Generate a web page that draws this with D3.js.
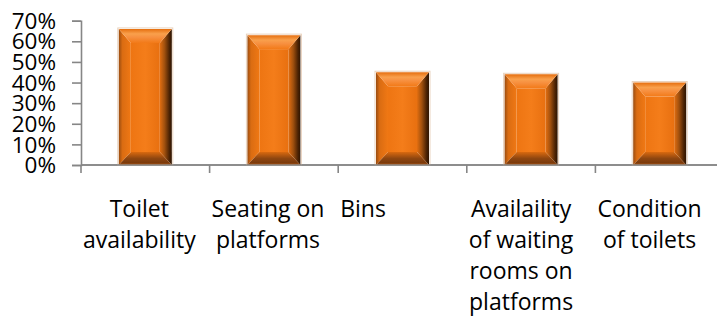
<!DOCTYPE html>
<html>
<head>
<meta charset="utf-8">
<script src="https://cdn.jsdelivr.net/npm/d3@7"></script>
<style>
  html, body { margin: 0; padding: 0; background: #fff; }
  svg { display: block; }
  text { font-family: "Open Sans", sans-serif; fill: #000; }
</style>
</head>
<body>
<svg id="chart" width="717" height="317"></svg>
<script>
// ---- data ----
const categories = ["Toilet availability", "Seating on platforms", "Bins",
  "Availaility of waiting rooms on platforms", "Condition of toilets"];
const categoryLines = [
  ["Toilet", "availability"],
  ["Seating on", "platforms"],
  ["Bins"],
  ["Availaility", "of waiting", "rooms on", "platforms"],
  ["Condition", "of toilets"]
];
const values = [0.66, 0.63, 0.45, 0.44, 0.40];
const yTicks = [0, 0.1, 0.2, 0.3, 0.4, 0.5, 0.6, 0.7];

// ---- layout ----
const W = 717, H = 317;
const mLeft = 81, mTop = 20.7, mBottom = 165, mRight = 724;
const svg = d3.select("#chart");

const x = d3.scaleBand().domain(categories).range([mLeft, mRight])
  .paddingInner(0.588).paddingOuter(0.294);
const y = d3.scaleLinear().domain([0, 0.7]).range([mBottom, mTop]);

// gradients
const defs = svg.append("defs");
function lin(id, x1, y1, x2, y2, stops) {
  const g = defs.append("linearGradient").attr("id", id)
    .attr("x1", x1).attr("y1", y1).attr("x2", x2).attr("y2", y2);
  stops.forEach(s => g.append("stop").attr("offset", s[0]).attr("stop-color", s[1]));
}
lin("gCenter", 0, 0, 1, 0, [[0, "#EE7512"], [0.5, "#F47D1A"], [1, "#E87010"]]);
lin("gTop", 0, 0, 0, 1, [[0, "#E56E0E"], [0.35, "#F9A04C"], [0.6, "#F79040"], [1, "#F27A18"]]);
lin("gBottom", 0, 0, 0, 1, [[0, "#D9690F"], [0.5, "#8E4610"], [0.85, "#7A3A0C"], [1, "#D06A18"]]);
lin("gLeft", 0, 0, 1, 0, [[0, "#9A4C10"], [0.3, "#DA6C12"], [1, "#F07814"]]);
lin("gRight", 0, 0, 1, 0, [[0, "#E36E10"], [0.4, "#A0500E"], [0.8, "#4A2204"], [1, "#2E1400"]]);

// ---- axes ----
const axisColor = "#868686";

// y axis
const yAxis = d3.axisLeft(y).tickValues(yTicks).tickFormat(d3.format(".0%")).tickSize(9).tickPadding(16);
const gy = svg.append("g").attr("transform", `translate(${mLeft},0)`).call(yAxis);
gy.select(".domain").attr("stroke", axisColor).attr("stroke-width", 1.6);
gy.selectAll(".tick line").attr("stroke", axisColor).attr("stroke-width", 1.6);
gy.selectAll(".tick text").style("font-family", "'Open Sans', sans-serif")
  .style("font-size", "22.5px").attr("fill", "#000").attr("dy", "0.34em");

// x axis line + boundary ticks
const xBounds = categories.map(c => x(c) - x.step() * x.paddingInner() / 2).concat([mRight]);
svg.append("line").attr("x1", mLeft).attr("x2", W).attr("y1", mBottom).attr("y2", mBottom)
  .attr("stroke", axisColor).attr("stroke-width", 1.6);
svg.selectAll(".xtick").data(xBounds).join("line").attr("class", "xtick")
  .attr("x1", d => d).attr("x2", d => d).attr("y1", mBottom).attr("y2", mBottom + 8)
  .attr("stroke", axisColor).attr("stroke-width", 1.6);

// ---- bars ----
const bars = svg.append("g");
categories.forEach((c, i) => {
  const x0 = x(c), x1 = x(c) + x.bandwidth();
  const y0 = y(values[i]), y1 = y(0);
  const bt = 14, bb = 13, bs = 12;
  const g = bars.append("g");
  g.append("rect").attr("x", x0 - 1).attr("y", y0 - 1).attr("width", x1 - x0 + 2).attr("height", y1 - y0 + 1)
    .attr("fill", "none").attr("stroke", "#e9d2bd").attr("stroke-width", 1);
  g.append("rect").attr("x", x0 + bs).attr("y", y0 + bt).attr("width", x1 - x0 - 2 * bs)
    .attr("height", Math.max(0, y1 - y0 - bt - bb)).attr("fill", "url(#gCenter)");
  const poly = (pts, fill) => g.append("polygon").attr("points", pts.map(p => p.join(",")).join(" ")).attr("fill", fill);
  poly([[x0, y0], [x0 + bs, y0 + bt], [x0 + bs, y1 - bb], [x0, y1]], "url(#gLeft)");
  poly([[x1, y0], [x1 - bs, y0 + bt], [x1 - bs, y1 - bb], [x1, y1]], "url(#gRight)");
  poly([[x0, y0], [x1, y0], [x1 - bs, y0 + bt], [x0 + bs, y0 + bt]], "url(#gTop)");
  poly([[x0 + bs, y1 - bb], [x1 - bs, y1 - bb], [x1, y1], [x0, y1]], "url(#gBottom)");
});

svg.append("line").attr("x1", mLeft).attr("x2", W).attr("y1", mBottom).attr("y2", mBottom)
  .attr("stroke", axisColor).attr("stroke-width", 1.6);

// ---- x labels ----
const lineH = 31.3, firstBase = 216.5;
categories.forEach((c, i) => {
  const bx = xBounds[i] + 2;
  const g = svg.append("g");
  const texts = categoryLines[i].map((ln, j) =>
    g.append("text").attr("x", bx).attr("y", firstBase + j * lineH)
      .style("font-size", "23px").text(ln));
  const widths = texts.map(t => t.node().getComputedTextLength());
  const maxW = d3.max(widths);
  texts.forEach((t, j) => t.attr("x", bx + (maxW - widths[j]) / 2));
});
</script>
</body>
</html>
